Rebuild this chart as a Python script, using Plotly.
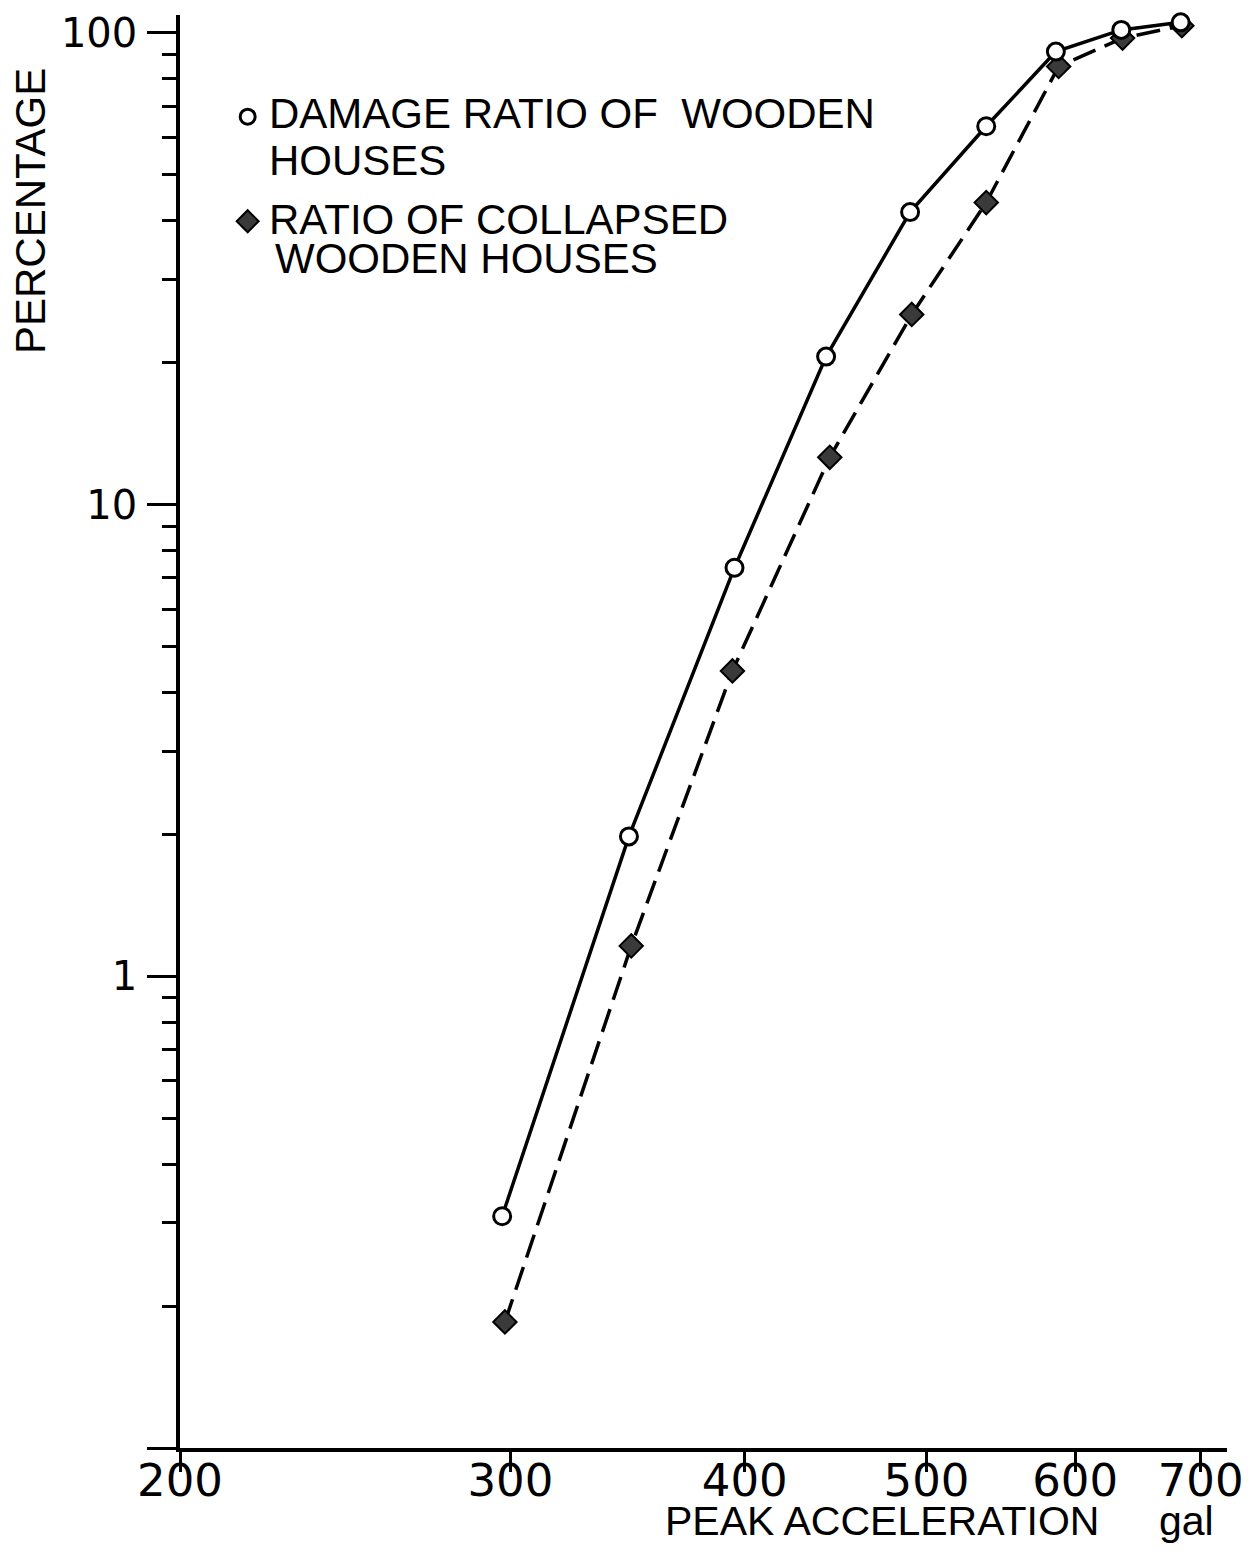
import math
import plotly.graph_objects as go

# ---- data ----
accel_damage = [297, 347, 395, 442, 490, 538, 586, 635, 683]
pct_damage = [0.31, 1.98, 7.35, 20.6, 41.7, 63.4, 91.3, 101.5, 105.3]

accel_collapse = [298, 348, 394, 444, 491, 538, 588, 636, 684]
pct_collapse = [0.185, 1.16, 4.44, 12.6, 25.3, 43.7, 84.9, 97.5, 103.6]

x_tick_vals = [200, 300, 400, 500, 600, 700]
x_tick_text = ["200", "300", "400", "500", "600", "700"]
y_tick_vals = [0.1, 1, 10, 100]
y_tick_text = ["", "1", "10", "100"]
y_minor_vals = [0.2, 0.3, 0.4, 0.5, 0.6, 0.7, 0.8, 0.9,
                2, 3, 4, 5, 6, 7, 8, 9,
                20, 30, 40, 50, 60, 70, 80, 90]

legend_damage = ["DAMAGE RATIO OF  WOODEN", "HOUSES"]
legend_collapse = ["RATIO OF COLLAPSED", "WOODEN HOUSES"]
x_title = "PEAK ACCELERATION"
x_unit = "gal"
y_title = "PERCENTAGE"

# ---- layout geometry (page has an 8px body margin) ----
OFF = 8
W, H = 1254 - 2 * OFF, 1557 - 2 * OFF
# target page positions: plot left 180, right 1232, top 10, bottom 1448
ML = 180 - OFF
MT = 10 - OFF
MR = W - (1232 - OFF)
MB = H - (1448 - OFF)
PW, PH = W - ML - MR, H - MT - MB
x_dec = 1885.0
x_range = [math.log10(200), math.log10(200) + PW / x_dec]
y_range = [-1, 2 + 18 / (1420 / 3.0)]


def px(xp):
    # page x pixel -> paper fraction
    return (xp - 180) / PW


def py(yp):
    # page y pixel -> paper fraction
    return (1448 - yp) / PH


LAB = "Liberation Sans, Arial, sans-serif"
NUM = "DejaVu Sans, sans-serif"

fig = go.Figure()

fig.add_trace(go.Scatter(
    x=accel_collapse, y=pct_collapse, mode="lines+markers",
    line=dict(color="black", width=3.5, dash="24px,10px"),
    marker=dict(symbol="diamond", size=18, color="#3a3a3a",
                line=dict(color="black", width=2)),
    cliponaxis=False, showlegend=False,
))
fig.add_trace(go.Scatter(
    x=accel_damage, y=pct_damage, mode="lines+markers",
    line=dict(color="black", width=3.5),
    marker=dict(symbol="circle", size=17, color="white",
                line=dict(color="black", width=3)),
    cliponaxis=False, showlegend=False,
))

annotations = []
LY = -1
for txt, yc, xl in [(legend_damage[0], 110, 267), (legend_damage[1], 157, 267),
                    (legend_collapse[0], 216, 267), (legend_collapse[1], 255, 273)]:
    annotations.append(dict(text=txt, x=px(xl), y=py(yc + LY), xref="paper", yref="paper",
                            xanchor="left", yanchor="middle", showarrow=False,
                            font=dict(family=LAB, size=42, color="black")))
annotations.append(dict(text=x_title, x=px(665), y=py(1521), xref="paper", yref="paper",
                        xanchor="left", yanchor="middle", showarrow=False,
                        font=dict(family=LAB, size=41, color="black")))
annotations.append(dict(text=x_unit, x=px(1162), y=py(1521), xref="paper", yref="paper",
                        xanchor="left", yanchor="middle", showarrow=False,
                        font=dict(family=LAB, size=41, color="black")))
annotations.append(dict(text=y_title, x=px(30), y=py(207), xref="paper", yref="paper",
                        xanchor="center", yanchor="middle", textangle=-90, showarrow=False,
                        font=dict(family=LAB, size=42, color="black")))

shapes = [
    dict(type="circle", xref="paper", yref="paper", xsizemode="pixel", ysizemode="pixel",
         xanchor=px(248), yanchor=py(112), x0=-7.5, x1=7.5, y0=-7.5, y1=7.5,
         line=dict(color="black", width=3), fillcolor="white"),
    dict(type="path", xref="paper", yref="paper", xsizemode="pixel", ysizemode="pixel",
         xanchor=px(248), yanchor=py(217), path="M 0,11 L 11,0 L 0,-11 L -11,0 Z",
         line=dict(color="black", width=2), fillcolor="#3a3a3a"),
]

fig.update_layout(
    width=W, height=H, autosize=False,
    margin=dict(l=ML, r=MR, t=MT, b=MB, pad=0),
    paper_bgcolor="white", plot_bgcolor="white",
    annotations=annotations, shapes=shapes,
    showlegend=False,
)

fig.update_xaxes(
    type="log", range=x_range, showgrid=False, zeroline=False,
    showline=True, linecolor="black", linewidth=3.5,
    tickmode="array", tickvals=x_tick_vals, ticktext=x_tick_text,
    ticks="outside", ticklen=20, tickwidth=3, tickcolor="black",
    tickfont=dict(family=NUM, size=45, color="black"),
    ticklabelstandoff=-30, ticklabeloverflow="allow",
)
fig.update_yaxes(
    type="log", range=y_range, showgrid=False, zeroline=False,
    showline=True, linecolor="black", linewidth=3.5,
    tickmode="array", tickvals=y_tick_vals, ticktext=y_tick_text,
    ticks="outside", ticklen=29, tickwidth=3, tickcolor="black",
    tickfont=dict(family=NUM, size=40, color="black"),
    ticklabelstandoff=2, ticklabeloverflow="allow",
    minor=dict(tickmode="array", tickvals=y_minor_vals, ticks="outside",
               ticklen=14, tickwidth=3, tickcolor="black", showgrid=False),
)

fig.write_html("out.html")
